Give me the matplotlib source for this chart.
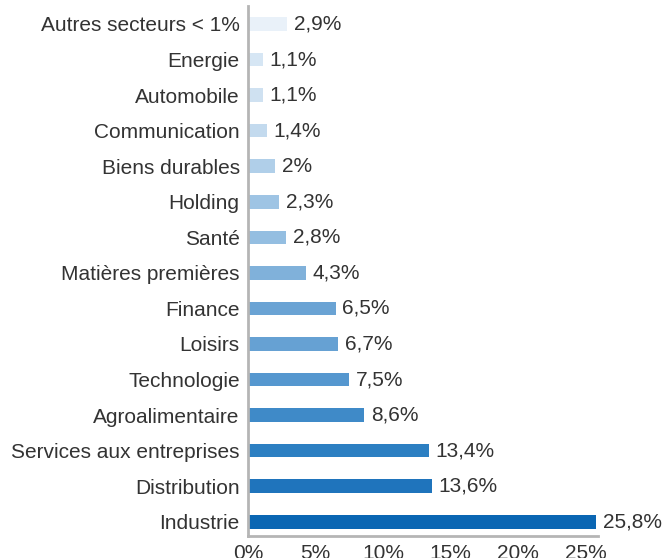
import matplotlib

matplotlib.use('Agg')
import matplotlib.pyplot as plt

plt.rcParams['font.family'] = ['Liberation Sans', 'DejaVu Sans']

# bottom to top
sectors = ['Industrie', 'Distribution', 'Services aux entreprises', 'Agroalimentaire',
           'Technologie', 'Loisirs', 'Finance', 'Matières premières', 'Santé',
           'Holding', 'Biens durables', 'Communication', 'Automobile', 'Energie',
           'Autres secteurs < 1%']
shares = [25.8, 13.6, 13.4, 8.6, 7.5, 6.7, 6.5, 4.3, 2.8, 2.3, 2.0, 1.4, 1.1, 1.1, 2.9]
colors = ['#0a66b3', '#1f74bc', '#2c7fc2', '#3f8ac8', '#5597cf', '#66a1d3', '#6aa3d4',
          '#80b1da', '#94bee1', '#9ec4e4', '#b0cfe9', '#c3daee', '#cfe1f1', '#d6e6f4',
          '#e9f1f9']
xticks = [0, 5, 10, 15, 20, 25]

fig = plt.figure(figsize=(6.62, 5.58), dpi=100)
ax = fig.add_axes([0.3746, 0.0394, 0.528, 0.9495])

y = list(range(len(sectors)))
ax.barh(y, shares, height=0.38, color=colors)
for yi, v in zip(y, shares):
    txt = '{:g}%'.format(v).replace('.', ',')
    ax.text(v + 0.5, yi, txt, va='center', ha='left', fontsize=15,
            color='#333333', clip_on=False)

ax.set_yticks(y)
ax.set_yticklabels(sectors, fontsize=15, color='#333333')
ax.set_xticks(xticks)
ax.set_xticklabels(['{}%'.format(t) for t in xticks], fontsize=15, color='#333333')
ax.set_xlim(0, 25.9)
ax.set_ylim(-0.4, 14.5)
ax.tick_params(length=0, pad=6)
ax.tick_params(axis='x', pad=6)
for s in ('top', 'right'):
    ax.spines[s].set_visible(False)
for s in ('left', 'bottom'):
    ax.spines[s].set_color('#b5b5b5')
    ax.spines[s].set_linewidth(2)

fig.savefig('out.png', dpi=100)
